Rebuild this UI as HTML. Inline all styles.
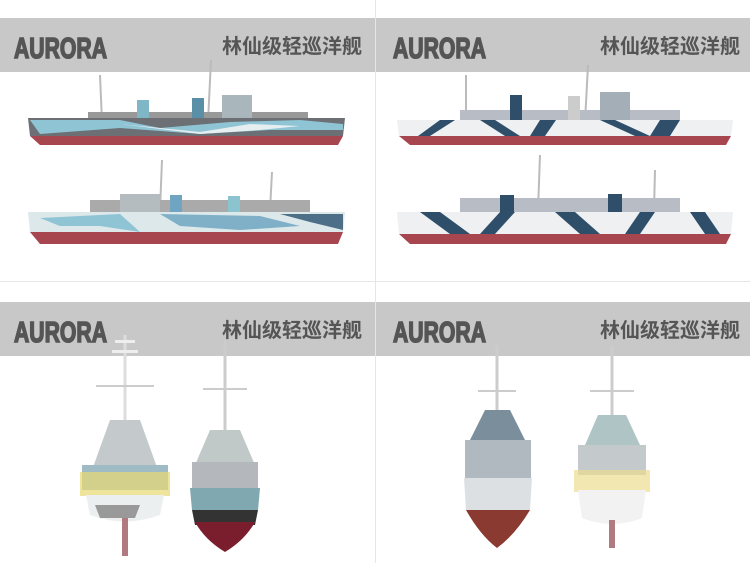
<!DOCTYPE html>
<html><head><meta charset="utf-8"><style>
html,body{margin:0;padding:0;background:#fff;}
svg{display:block}
.t{font-family:"Liberation Sans Narrow","Liberation Sans",sans-serif;font-weight:bold;fill:#555;stroke:#555;stroke-width:1.6;}
.c{font-family:"Liberation Sans","Noto Sans CJK SC",sans-serif;font-weight:bold;fill:#555;}
</style></head><body>
<svg width="750" height="563" viewBox="0 0 750 563" xmlns="http://www.w3.org/2000/svg">
<rect width="750" height="563" fill="#fff"/>
<line x1="375.5" y1="0" x2="375.5" y2="563" stroke="#e6e6e6"/>
<line x1="0" y1="281.5" x2="750" y2="281.5" stroke="#e6e6e6"/>
<rect x="0" y="18" width="375" height="54" fill="#c8c8c8"/>
<rect x="376" y="18" width="374" height="54" fill="#c8c8c8"/>
<rect x="0" y="302" width="375" height="54" fill="#c8c8c8"/>
<rect x="376" y="302" width="374" height="54" fill="#c8c8c8"/>
<g class="t" font-size="29">
<text x="14" y="58" textLength="93" lengthAdjust="spacingAndGlyphs">AURORA</text>
<text x="393" y="58" textLength="93" lengthAdjust="spacingAndGlyphs">AURORA</text>
<text x="14" y="342" textLength="93" lengthAdjust="spacingAndGlyphs">AURORA</text>
<text x="393" y="342" textLength="93" lengthAdjust="spacingAndGlyphs">AURORA</text>
</g>
<g class="c" font-size="20">
<text x="222" y="53">林仙级轻巡洋舰</text>
<text x="600" y="53">林仙级轻巡洋舰</text>
<text x="222" y="337">林仙级轻巡洋舰</text>
<text x="600" y="337">林仙级轻巡洋舰</text>
</g>

<!-- TL ship 1 -->
<g>
<line x1="100" y1="75" x2="102" y2="122" stroke="#bbb" stroke-width="2"/>
<line x1="211" y1="60" x2="208" y2="122" stroke="#bbb" stroke-width="2"/>
<rect x="88" y="112" width="220" height="12" fill="#999"/>
<rect x="137" y="100" width="12" height="25" fill="#7fb7c7"/>
<rect x="192" y="98" width="12" height="28" fill="#5a8fa8"/>
<rect x="222" y="95" width="30" height="28" fill="#a9b6bc"/>
<polygon points="28,118 345,118 343,136 30,136" fill="#6c6f74"/>
<polygon points="30,120 120,120 160,128 230,122 300,120 343,124 343,130 270,130 200,134 120,128 40,134" fill="#8fc4d4"/>
<polygon points="120,124 200,132 250,124 300,126 260,130 200,134" fill="#e6eef0"/>
<polygon points="30,136 343,136 338,145 40,145" fill="#a8464f"/>
</g>
<!-- TL ship 2 -->
<g>
<line x1="162" y1="160" x2="160" y2="210" stroke="#bbb" stroke-width="2"/>
<line x1="272" y1="172" x2="270" y2="210" stroke="#bbb" stroke-width="2"/>
<rect x="90" y="200" width="220" height="12" fill="#aaa"/>
<rect x="170" y="195" width="12" height="25" fill="#6fa5c0"/>
<rect x="228" y="196" width="12" height="22" fill="#8bc3cf"/>
<rect x="120" y="194" width="40" height="20" fill="#b4bcc0"/>
<polygon points="28,212 345,212 343,232 30,232" fill="#dde8ea"/>
<polygon points="40,218 120,214 140,232 100,226 60,226" fill="#8fc4d4"/>
<polygon points="160,214 260,216 300,226 240,230 180,226" fill="#7fb0c8"/>
<polygon points="280,214 343,214 343,230 310,222" fill="#4d6f88"/>
<polygon points="30,232 343,232 338,244 40,244" fill="#a8464f"/>
</g>
<!-- TR ship 1 -->
<g>
<line x1="466" y1="75" x2="466" y2="122" stroke="#bbb" stroke-width="2"/>
<line x1="588" y1="65" x2="585" y2="122" stroke="#bbb" stroke-width="2"/>
<rect x="460" y="110" width="220" height="13" fill="#b8bcc4"/>
<rect x="510" y="95" width="12" height="28" fill="#2f4e6a"/>
<rect x="568" y="96" width="12" height="28" fill="#ccc"/>
<rect x="600" y="92" width="30" height="30" fill="#a4aeb6"/>
<polygon points="397,120 733,120 731,136 399,136" fill="#eef0f2"/>
<g fill="#2f4e6a">
<polygon points="440,120 455,120 430,136 418,136"/>
<polygon points="480,120 495,120 520,136 505,136"/>
<polygon points="540,120 556,120 545,136 530,136"/>
<polygon points="600,120 615,120 650,136 635,136"/>
<polygon points="660,120 680,120 670,136 650,136"/>
</g>
<polygon points="399,136 731,136 726,145 410,145" fill="#a8464f"/>
</g>
<!-- TR ship 2 -->
<g>
<line x1="540" y1="155" x2="538" y2="210" stroke="#bbb" stroke-width="2"/>
<line x1="655" y1="170" x2="654" y2="210" stroke="#bbb" stroke-width="2"/>
<rect x="460" y="198" width="220" height="14" fill="#b8bcc4"/>
<rect x="500" y="195" width="14" height="20" fill="#2f4e6a"/>
<rect x="608" y="194" width="14" height="22" fill="#2f4e6a"/>
<polygon points="397,212 733,212 731,234 399,234" fill="#eef0f2"/>
<g fill="#2f4e6a">
<polygon points="420,212 440,212 470,234 450,234"/>
<polygon points="500,212 515,212 495,234 480,234"/>
<polygon points="555,212 575,212 600,234 580,234"/>
<polygon points="640,212 655,212 640,234 625,234"/>
<polygon points="690,212 705,212 720,234 705,234"/>
</g>
<polygon points="399,234 731,234 726,244 410,244" fill="#a8464f"/>
</g>

<!-- BL front A -->
<g>
<line x1="125" y1="335" x2="125" y2="470" stroke="#ddd" stroke-width="3"/>
<rect x="115" y="340" width="20" height="3" fill="#eee"/><rect x="112" y="350" width="26" height="3" fill="#eee"/>
<rect x="96" y="385" width="58" height="2" fill="#ccc"/>
<polygon points="110,420 140,420 158,470 92,470" fill="#c4cacc"/>
<rect x="82" y="465" width="86" height="25" fill="#9fbcc6"/>
<rect x="80" y="472" width="90" height="24" fill="#e8d870" opacity="0.7"/>
<path d="M86,495 L164,495 L160,515 Q125,528 90,515 Z" fill="#eceff0"/>
<path d="M95,505 L140,505 L135,518 L100,518Z" fill="#999"/>
<rect x="122" y="518" width="6" height="38" fill="#b07a80"/>
</g>
<!-- BL front B -->
<g>
<line x1="225" y1="340" x2="225" y2="450" stroke="#ccc" stroke-width="3"/>
<rect x="203" y="388" width="44" height="2" fill="#ccc"/>
<polygon points="210,430 240,430 255,465 195,465" fill="#c0c8c8"/>
<rect x="192" y="462" width="66" height="28" fill="#b4b8bc"/>
<path d="M190,488 L260,488 L258,510 L192,510Z" fill="#7fa8b0"/>
<path d="M192,510 L258,510 L255,525 L195,525Z" fill="#333"/>
<path d="M195,522 L255,522 Q245,540 225,552 Q205,540 195,522Z" fill="#7a1e2e"/>
</g>
<!-- BR front C -->
<g>
<line x1="497" y1="345" x2="497" y2="420" stroke="#ccc" stroke-width="3"/>
<rect x="478" y="390" width="38" height="2" fill="#ccc"/>
<polygon points="485,410 510,410 525,440 470,440" fill="#7a8e9c"/>
<rect x="465" y="440" width="66" height="38" fill="#b0b8c0"/>
<path d="M464,478 L532,478 L530,510 L466,510Z" fill="#dde0e3"/>
<path d="M466,510 L530,510 Q515,535 497,548 Q480,535 466,510Z" fill="#8a3a30"/>
</g>
<!-- BR front D -->
<g>
<line x1="612" y1="345" x2="612" y2="420" stroke="#ccc" stroke-width="3"/>
<rect x="590" y="390" width="44" height="2" fill="#ccc"/>
<polygon points="598,415 626,415 640,445 585,445" fill="#afc4c4"/>
<rect x="578" y="445" width="68" height="30" fill="#c4c9cc"/>
<rect x="574" y="470" width="76" height="22" fill="#ecdc90" opacity="0.7"/>
<path d="M578,490 L646,490 L642,518 Q612,530 582,518Z" fill="#f2f2f2"/>
<rect x="609" y="520" width="6" height="28" fill="#b07a80"/>
</g>
</svg>
</body></html>
